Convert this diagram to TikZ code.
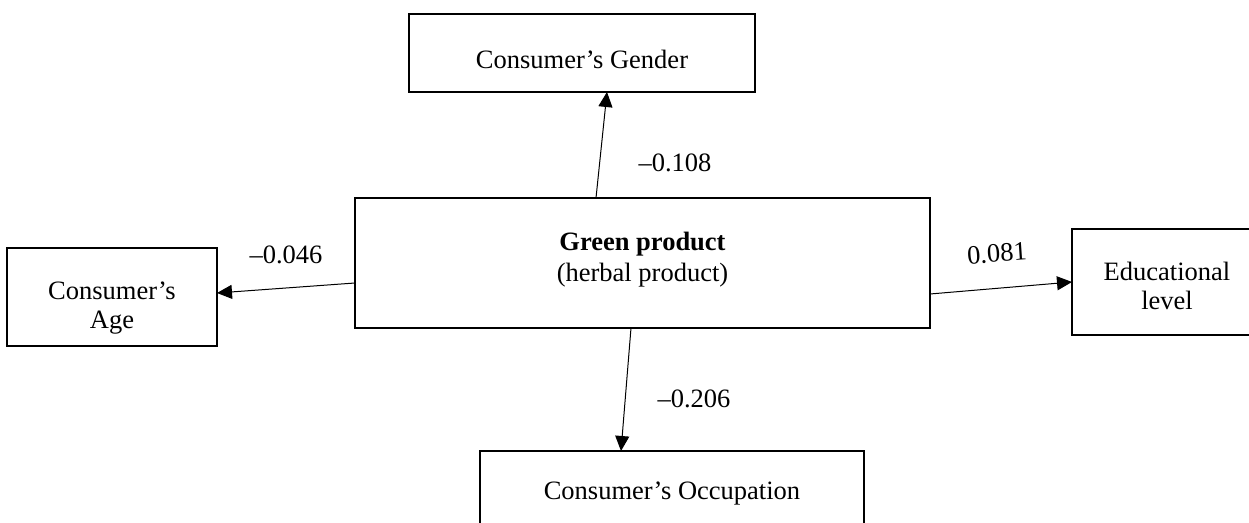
\documentclass[tikz,border=0pt]{standalone}
\usepackage{fontspec}
\setmainfont{Liberation Serif}
\usetikzlibrary{arrows.meta}
\begin{document}
\begin{tikzpicture}[x=0.5pt,y=-0.5pt,
  box/.style={draw=black,line width=0.9pt,inner sep=0pt,outer sep=0pt,fill=none},
  txt/.style={inner sep=0pt,anchor=base,font=\fontsize{13.25}{16}\selectfont},
  arr/.style={draw=black,line width=0.5pt,-{Triangle[length=7.5pt,width=7pt]}}]
\useasboundingbox (0,0) rectangle (1249,523);
\clip (0,0) rectangle (1249,523);
% boxes
\node[box,minimum width=173pt,minimum height=39pt] (gender) at (582,53) {};
\node[box,minimum width=287.5pt,minimum height=65pt] (center) at (642.5,263) {};
\node[box,minimum width=105pt,minimum height=49pt] (age) at (112,297) {};
\node[box,minimum width=95pt,minimum height=53pt] (edu) at (1167,282) {};
\node[box,minimum width=192pt,minimum height=54pt] (occ) at (672,505) {};
% texts
\node[txt] (gendert) at (582,69) {Consumer’s Gender};
\node[txt,font=\fontsize{13.25}{16}\selectfont\bfseries] (centert1) at (642.5,251) {Green product};
\node[txt] (centert2) at (642.5,282) {(herbal product)};
\node[txt] (aget1) at (112,300) {Consumer’s};
\node[txt] (aget2) at (112,329) {Age};
\node[txt] (edut1) at (1167,281) {Educational};
\node[txt] (edut2) at (1167,310) {level};
\node[txt] (occt) at (672,500) {Consumer’s Occupation};
% connectors
\draw[arr] ([xshift=-23.25pt]center.north) -- ([xshift=12.5pt]gender.south);
\draw[arr] ([yshift=-10pt]center.west) -- ([yshift=2pt]age.east);
\draw[arr] ([yshift=-15.5pt]center.east) -- (edu.west);
\draw[arr] ([xshift=-5.75pt]center.south) -- ([xshift=-25.5pt]occ.north);
% labels
\node[txt] (l1) at (675,172) {–0.108};
\node[txt] (l2) at (286,264) {–0.046};
\node[txt,rotate=4] (l3) at (997.5,262) {0.081};
\node[txt] (l4) at (694,408) {–0.206};
\end{tikzpicture}
\end{document}
